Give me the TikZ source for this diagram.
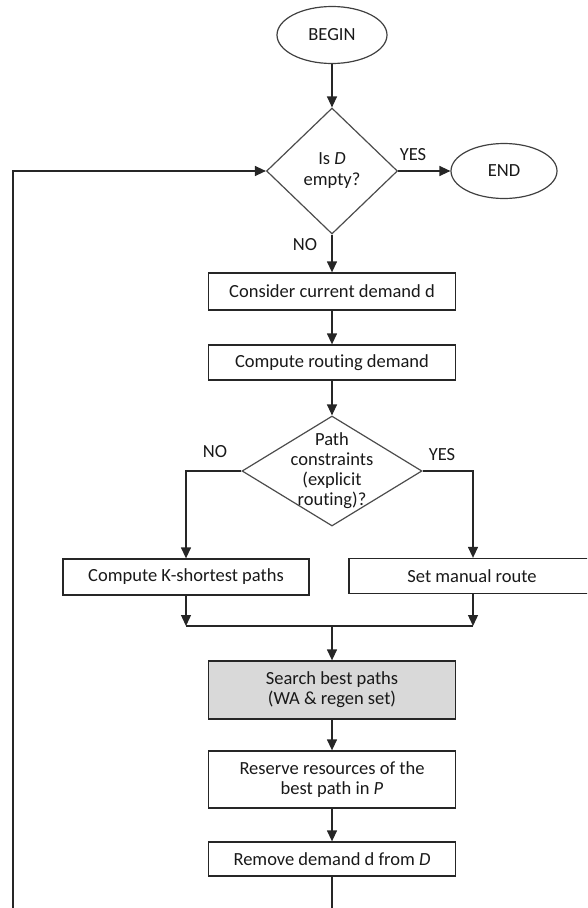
\documentclass[tikz,border=0pt]{standalone}
\usepackage{fontspec}
\setmainfont[Ligatures=CommonOff]{Carlito}
\usetikzlibrary{shapes.geometric,arrows.meta}
\begin{document}
\begin{tikzpicture}[x=1pt,y=-1pt,
  every node/.style={font=\fontsize{18.5}{20}\selectfont, text=black!90},
  line/.style={draw=black!85, line width=1.3pt},
  arrow/.style={line, -{Triangle[width=10pt,length=11pt]}},
  procbox/.style={draw=black!85, line width=1.3pt, rectangle, inner sep=0pt, align=center, minimum width=247pt},
  terminal/.style={draw=black!75, line width=1.2pt, ellipse, inner sep=0pt},
  decision/.style={draw=black!70, line width=1.2pt, diamond, inner sep=0pt},
  tag/.style={inner sep=0pt, align=center}]
\useasboundingbox (0,0) rectangle (587,908);
\clip (0,0) rectangle (587,908);

% start / end terminals and the loop test
\node[terminal, minimum width=110pt, minimum height=57pt] (begin) at (332,35) {BEGIN};
\node[decision, minimum width=131pt, minimum height=126pt] (q1) at (332,171) {};
\node[tag] (q1t) at (332,171) {Is \textit{D}\\[1pt]empty?};
\node[terminal, minimum width=106pt, minimum height=55pt] (end) at (504,171) {END};

% per-demand processing
\node[procbox, minimum height=37pt] (consider) at (332,291.5) {Consider current demand d};
\node[procbox, minimum height=35pt] (routing) at (332,362.5) {Compute routing demand};
\node[decision, minimum width=180pt, minimum height=110pt] (q2) at (332,471) {};
\node[tag] (q2t) at (332,471) {Path\\constraints\\(explicit\\routing)?};
\node[procbox, minimum width=246pt, minimum height=36pt] (kpaths) at (186,577) {Compute K-shortest paths};
\node[procbox, minimum width=246pt, minimum height=35pt] (manual) at (472,576) {Set manual route};
\coordinate (joinL) at (186,626);
\coordinate (joinR) at (473,626);
\coordinate (joinM) at (332,626);
\node[procbox, fill=black!15, minimum height=58pt] (search) at (332,690) {Search best paths\\(WA \& regen set)};
\node[procbox, minimum height=57pt] (reserve) at (332,779.5) {Reserve resources of the\\best path in \textit{P}};
\node[procbox, minimum height=34pt] (remove) at (332,859) {Remove demand d from \textit{D}};

% branch labels
\node[tag] (yes1) at (413,155) {YES};
\node[tag] (no1) at (305,245) {NO};
\node[tag] (no2) at (215,452) {NO};
\node[tag] (yes2) at (442,455) {YES};

% connectors
\draw[arrow] (begin) -- (q1.north);
\draw[arrow] (q1.east) -- (end.west);
\draw[arrow] (q1.south) -- (consider.north);
\draw[arrow] (consider) -- (routing);
\draw[arrow] (routing) -- (q2.north);
\draw[arrow] (q2.west) -| (kpaths.north);
\draw[arrow] (q2.east) -| (manual.north -| joinR);
\draw[arrow] (kpaths.south) -- (joinL);
\draw[arrow] (manual.south -| joinR) -- (joinR);
\draw[line] (joinL) -- (joinR);
\draw[arrow] (joinM) -- (search.north);
\draw[arrow] (search) -- (reserve);
\draw[arrow] (reserve) -- (remove);
\draw[arrow] (remove.south) -- ++(0,60) -| (13,171) -- (q1.west);
\end{tikzpicture}
\end{document}
